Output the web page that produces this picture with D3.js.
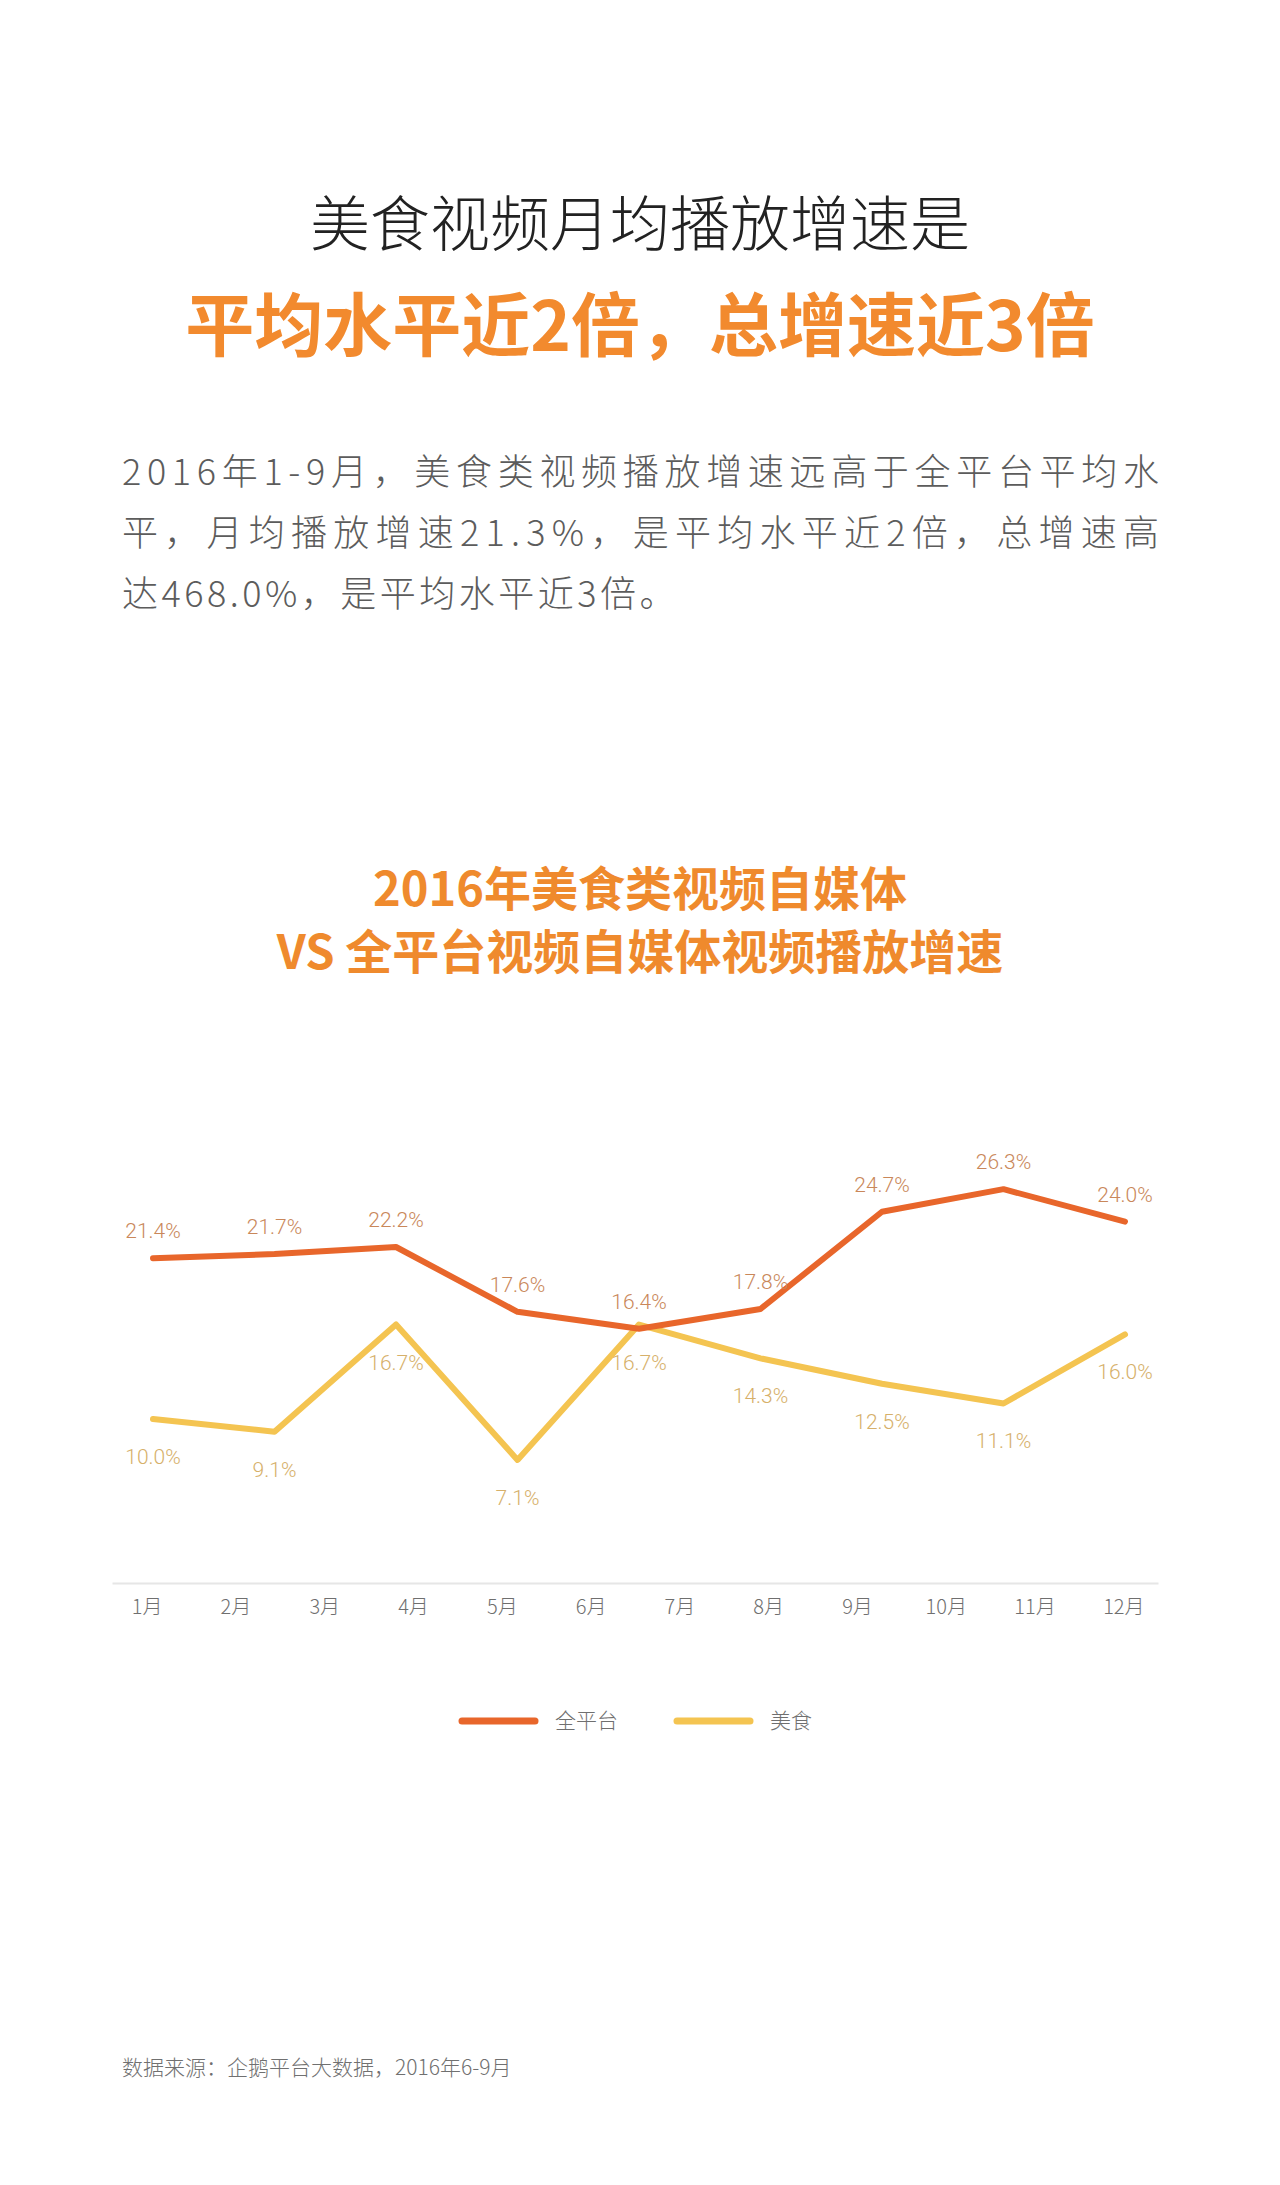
<!DOCTYPE html>
<html>
<head>
<meta charset="utf-8">
<title>美食视频月均播放增速</title>
<script src="https://cdn.jsdelivr.net/npm/d3@7/dist/d3.min.js"></script>
<style>
  body { margin: 0; background: #fff; }
  svg { display: block; }
</style>
</head>
<body>
<svg width="1280" height="2185" id="mainsvg"></svg>
<script>
// data
const points = ['1', '2', '3', '4', '5', '6', '7', '8', '9']
const allPlatform = [21.4, 21.7, 22.2, 17.6, 16.4, 17.8, 24.7, 26.3, 24.0]
const food = [10.0, 9.1, 16.7, 7.1, 16.7, 14.3, 12.5, 11.1, 16.0]
const months = ['1月', '2月', '3月', '4月', '5月', '6月', '7月', '8月', '9月', '10月', '11月', '12月']
const seriesNames = ['全平台', '美食']

const svg = d3.select('#mainsvg')
const width = +svg.attr('width')
const cjk = '"Noto Sans CJK SC", "Noto Sans", sans-serif'

svg.append('rect').attr('width', width).attr('height', 2185).attr('fill', '#fff')

// headline
svg.append('text')
  .attr('x', 640).attr('y', 246)
  .attr('text-anchor', 'middle')
  .attr('font-family', cjk).attr('font-weight', 300)
  .attr('font-size', 60).attr('fill', '#222')
  .text('美食视频月均播放增速是')

svg.append('text')
  .attr('x', 640).attr('y', 351)
  .attr('text-anchor', 'middle')
  .attr('font-family', cjk).attr('font-weight', 700)
  .attr('font-size', 69).attr('fill', '#f28a2e')
  .text('平均水平近2倍，总增速近3倍')

// body paragraph
const bodyLines = [
  '2016年1-9月，美食类视频播放增速远高于全平台平均水',
  '平，月均播放增速21.3%，是平均水平近2倍，总增速高',
  '达468.0%，是平均水平近3倍。'
]
svg.selectAll('text.body')
  .data(bodyLines)
  .join('text')
  .attr('class', 'body')
  .attr('x', 122)
  .attr('y', (d, i) => 485 + i * 61)
  .attr('font-family', cjk).attr('font-weight', 300)
  .attr('font-size', 36).attr('fill', '#5c5c5c')
  .each(function(d, i) {
    const t = d3.select(this)
    if (i < 2) t.attr('textLength', 1037).attr('lengthAdjust', 'spacing')
    else t.attr('letter-spacing', 3.5)
  })
  .text(d => d)

// chart title, two lines in one text
const chartTitle = ['2016年美食类视频自媒体', 'VS 全平台视频自媒体视频播放增速']
svg.append('text')
  .attr('text-anchor', 'middle')
  .attr('font-family', cjk).attr('font-weight', 700)
  .attr('font-size', 47).attr('fill', '#ef8a2d')
  .selectAll('tspan')
  .data(chartTitle)
  .join('tspan')
  .attr('x', 640)
  .attr('y', (d, i) => 906 + i * 63)
  .text(d => d)

// scales
const x = d3.scalePoint().domain(points).range([153, 1125])
const xMonth = d3.scalePoint().domain(months).range([112, 1158]).padding(0.39)
const y = d3.scaleLinear().domain([0, 30]).range([1560, 1137])

// month axis
const axis = svg.append('g')
  .attr('transform', 'translate(0,1583)')
  .call(d3.axisBottom(xMonth).tickSize(0).tickSizeOuter(0).tickPadding(17))
axis.select('.domain').attr('stroke', '#e6e6e6').attr('stroke-width', 2)
axis.selectAll('text')
  .attr('font-family', cjk).attr('font-weight', 300)
  .attr('font-size', 20).attr('fill', '#6f6f6f')

const series = [
  { name: seriesNames[0], values: allPlatform, line: '#e8662b', label: '#c9875a', dy: -20 },
  { name: seriesNames[1], values: food, line: '#f4c451', label: '#d6b06a', dy: 45 }
]

const line = d3.line()
  .x((d, i) => x(points[i]))
  .y(d => y(d))

// food line drawn first, platform line on top
series.slice().reverse().forEach(s => {
  svg.append('path')
    .datum(s.values)
    .attr('fill', 'none')
    .attr('stroke', s.line)
    .attr('stroke-width', 6)
    .attr('stroke-linecap', 'round')
    .attr('stroke-linejoin', 'round')
    .attr('d', line)
})

series.forEach(s => {
  svg.append('g')
    .selectAll('text')
    .data(s.values)
    .join('text')
    .attr('x', (d, i) => x(points[i]))
    .attr('y', d => y(d) + s.dy)
    .attr('text-anchor', 'middle')
    .attr('font-family', 'Roboto, "Noto Sans", sans-serif').attr('font-weight', 300)
    .attr('font-size', 21).attr('fill', s.label)
    .text(d => d.toFixed(1) + '%')
})

// legend
const legendX = d3.scaleOrdinal().domain(seriesNames).range([462, 677])
const legend = svg.append('g')
  .selectAll('g')
  .data(series)
  .join('g')
  .attr('transform', d => `translate(${legendX(d.name)},1721)`)
legend.append('line')
  .attr('x1', 0).attr('x2', 73)
  .attr('stroke', d => d.line).attr('stroke-width', 7)
  .attr('stroke-linecap', 'round')
legend.append('text')
  .attr('x', 93).attr('dy', '0.35em')
  .attr('font-family', cjk).attr('font-weight', 300)
  .attr('font-size', 21).attr('fill', '#6f6f6f')
  .text(d => d.name)

// source note
svg.append('text')
  .attr('x', 122).attr('y', 2075)
  .attr('font-family', cjk).attr('font-weight', 300)
  .attr('font-size', 21).attr('fill', '#707070')
  .text('数据来源：企鹅平台大数据，2016年6-9月')
</script>
</body>
</html>
